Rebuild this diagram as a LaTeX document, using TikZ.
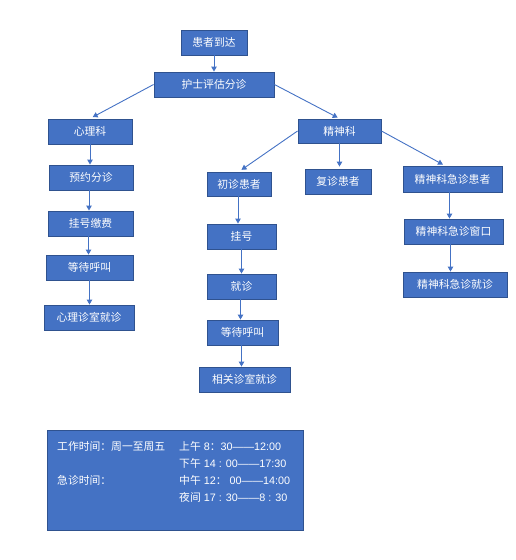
\documentclass[tikz,border=0pt]{standalone}
\usepackage{fontspec}
\setmainfont{Liberation Sans}
\newfontfamily\cjk{Noto Sans CJK SC}
\usetikzlibrary{arrows.meta}
\definecolor{boxblue}{HTML}{4472C4}
\definecolor{edgeblue}{HTML}{2F528F}

\begin{document}
\begin{tikzpicture}[x=1pt, y=-1pt,
        box/.style={fill=boxblue, draw=edgeblue, line width=0.9pt, text=white,
            font=\fontsize{10.8}{13}\cjk, minimum height=25pt, inner sep=0pt},
        info/.style={text=white, font=\fontsize{10.8}{13}\selectfont, inner sep=0pt, anchor=west},
        arr/.style={draw=boxblue, line width=0.9pt, -{Triangle[width=5.5pt,length=5pt]}}]
        \useasboundingbox (0,0) rectangle (516,560);

        \node[box, minimum width=66pt] (arrive) at (214,42.5) {患者到达};
        \node[box, minimum width=120pt] (nurse) at (214,84.5) {护士评估分诊};

        \node[box, minimum width=84pt] (psy) at (90,131.5) {心理科};
        \node[box, minimum width=84pt] (book) at (91,177.5) {预约分诊};
        \node[box, minimum width=85pt] (regA) at (90.5,223.5) {挂号缴费};
        \node[box, minimum width=87pt] (waitA) at (89.5,267.5) {等待呼叫};
        \node[box, minimum width=90pt] (roomA) at (89,317.5) {心理诊室就诊};

        \node[box, minimum width=83pt, minimum height=24pt] (mental) at (339.5,131) {精神科};
        \node[box, minimum width=64pt, minimum height=24pt] (first) at (239,184) {初诊患者};
        \node[box, minimum width=69pt] (reg) at (241.5,236.5) {挂号};
        \node[box, minimum width=69pt] (visit) at (241.5,286.5) {就诊};
        \node[box, minimum width=71pt] (waitB) at (242.5,332.5) {等待呼叫};
        \node[box, minimum width=91pt] (roomB) at (244.5,379.5) {相关诊室就诊};
        \node[box, minimum width=66pt] (revisit) at (338,181.5) {复诊患者};
        \node[box, minimum width=99pt, minimum height=26pt] (emerg) at (452.5,179) {精神科急诊患者};
        \node[box, minimum width=99pt] (window) at (453.5,231.5) {精神科急诊窗口};
        \node[box, minimum width=104pt] (emvisit) at (455,284.5) {精神科急诊就诊};

        \draw[arr] (arrive) -- (nurse);
        \draw[arr, shorten >=3pt] (nurse.west) -- (psy.north);
        \draw[arr, shorten >=2pt] (nurse.east) -- (mental.north);
        \draw[arr, shorten >=3pt] (mental.west) -- (first.north);
        \draw[arr, shorten >=2pt] (mental.east) -- (emerg.120);
        \draw[arr, shorten >=2pt] (mental.south) -- (mental.south |- revisit.north);

        \draw[arr] (psy.south) -- (psy.south |- book.north);
        \draw[arr] ([xshift=-2pt]book.south) -- ([xshift=-2pt]book.south |- regA.north);
        \draw[arr] ([xshift=-2pt]regA.south) -- ([xshift=-2pt]regA.south |- waitA.north);
        \draw[arr] (waitA.south) -- (waitA.south |- roomA.north);

        \draw[arr] ([xshift=-1pt]first.south) -- ([xshift=-1pt]first.south |- reg.north);
        \draw[arr] (reg.south) -- (reg.south |- visit.north);
        \draw[arr] ([xshift=-1pt]visit.south) -- ([xshift=-1pt]visit.south |- waitB.north);
        \draw[arr] ([xshift=-1pt]waitB.south) -- ([xshift=-1pt]waitB.south |- roomB.north);

        \draw[arr] ([xshift=-3pt]emerg.south) -- ([xshift=-3pt]emerg.south |- window.north);
        \draw[arr] ([xshift=-3pt]window.south) -- ([xshift=-3pt]window.south |- emvisit.north);

        \node[box, minimum width=256pt, minimum height=100pt] (hours) at (175,480) {};
        \node[info] (work) at (57,446) {{\cjk 工作时间：周一至周五}};
        \node[info] (emtime) at (57,480) {{\cjk 急诊时间：}};
        \node[info] (morning) at (179,446) {{\cjk 上午} 8{\cjk ：}30——12:00};
        \node[info] (afternoon) at (179,463) {{\cjk 下午} 14 : 00——17:30};
        \node[info] (noon) at (179,480) {{\cjk 中午} 12{\cjk ：} 00——14:00};
        \node[info] (night) at (179,497) {{\cjk 夜间} 17 : 30——8 : 30};
\end{tikzpicture}
\end{document}
